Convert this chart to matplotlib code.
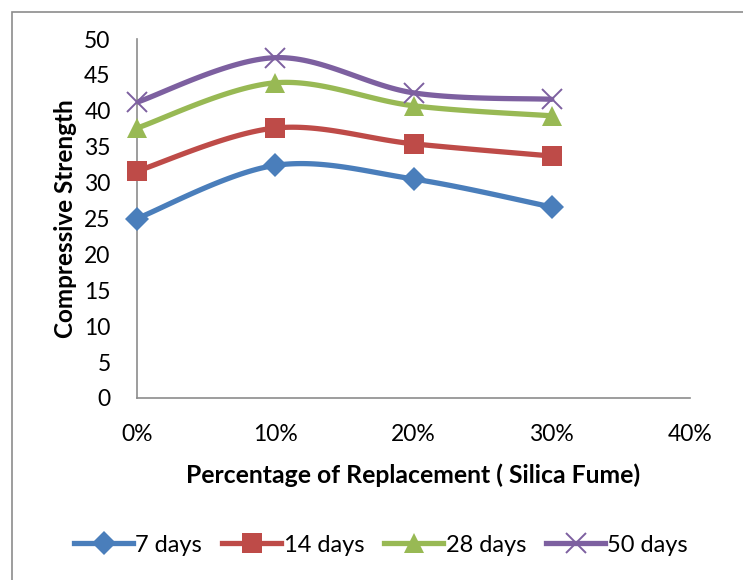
import numpy as np
import matplotlib
matplotlib.use("Agg")
import matplotlib.pyplot as plt
from matplotlib.patches import Rectangle
from matplotlib.lines import Line2D

plt.rcParams['font.family'] = ['Lato', 'DejaVu Sans']

replacement = [0.0, 0.10, 0.20, 0.30]
x_ticks = [0.0, 0.10, 0.20, 0.30, 0.40]
x_tick_labels = ["0%", "10%", "20%", "30%", "40%"]
y_ticks = [0, 5, 10, 15, 20, 25, 30, 35, 40, 45, 50]

days_7 = [25.0, 32.4, 30.5, 26.6]
days_14 = [31.6, 37.6, 35.4, 33.7]
days_28 = [37.6, 43.9, 40.7, 39.3]
days_50 = [41.2, 47.4, 42.5, 41.6]

series_labels = ["7 days", "14 days", "28 days", "50 days"]
series_values = [days_7, days_14, days_28, days_50]
colors = ["#4A7EBB", "#BE4B48", "#98B954", "#7D60A0"]
markers = ["D", "s", "^", "x"]
marker_sizes = [12.5, 14, 14, 14]


def smooth(xs, ys, n=40):
    """Catmull-Rom style Bezier smoothing through every point."""
    xs = np.asarray(xs, float)
    ys = np.asarray(ys, float)
    px = np.concatenate([[xs[0]], xs, [xs[-1]]])
    py = np.concatenate([[ys[0]], ys, [ys[-1]]])
    out_x, out_y = [], []
    t = np.linspace(0, 1, n)
    for i in range(1, len(px) - 2):
        p0 = np.array([px[i], py[i]])
        p3 = np.array([px[i + 1], py[i + 1]])
        c1 = p0 + (np.array([px[i + 1], py[i + 1]]) - np.array([px[i - 1], py[i - 1]])) / 6
        c2 = p3 - (np.array([px[i + 2], py[i + 2]]) - np.array([px[i], py[i]])) / 6
        b = ((1 - t) ** 3)[:, None] * p0 + (3 * (1 - t) ** 2 * t)[:, None] * c1 \
            + (3 * (1 - t) * t ** 2)[:, None] * c2 + (t ** 3)[:, None] * p3
        out_x.extend(b[:, 0])
        out_y.extend(b[:, 1])
    return np.array(out_x), np.array(out_y)


fig = plt.figure(figsize=(7.43, 5.80), dpi=100)
fig.patches.append(Rectangle((12 / 743, -0.1), 1.2, 1 - 12 / 580 + 0.1,
                             transform=fig.transFigure, fill=False,
                             edgecolor="#8C8C8C", linewidth=1.2))

ax = fig.add_axes([137 / 743, 1 - 398 / 580, (690 - 137) / 743, (398 - 39) / 580])

handles = []
for vals, lab, col, mk, ms in zip(series_values, series_labels, colors, markers, marker_sizes):
    sx, sy = smooth(replacement, vals)
    ax.plot(sx, sy, color=col, linewidth=3.8, solid_capstyle="round", zorder=2)
    mew = 1.4 if mk == "x" else 0
    ax.plot(replacement, vals, linestyle="none", marker=mk, markersize=ms,
            color=col, markeredgewidth=mew, markeredgecolor=col, zorder=3, clip_on=False)
    handles.append(Line2D([0], [0], color=col, linewidth=3.8, marker=mk, markersize=ms,
                          markeredgewidth=mew, markeredgecolor=col))

ax.set_xlim(0, 0.40)
ax.set_ylim(0, 50)
ax.set_xticks(x_ticks)
ax.set_xticklabels(x_tick_labels)
ax.set_yticks(y_ticks)
ax.tick_params(axis="both", length=0, labelsize=16.5, colors="black")
ax.tick_params(axis="x", pad=19)
ax.tick_params(axis="y", pad=19)
for side in ("top", "right"):
    ax.spines[side].set_visible(False)
for side in ("left", "bottom"):
    ax.spines[side].set_color("#8C8C8C")
    ax.spines[side].set_linewidth(1.2)

ax.set_ylabel("Compressive Strength", fontsize=17.5, fontweight="bold", labelpad=5)
ax.set_xlabel("Percentage of Replacement ( Silica Fume)", fontsize=17.8, fontweight="bold", labelpad=13)

fig.legend(handles, series_labels, loc="center", bbox_to_anchor=(381 / 743, 1 - 545 / 580),
           ncol=4, frameon=False, fontsize=17, handlelength=2.5, handletextpad=0.1,
           columnspacing=0.85)

fig.savefig("out.png", dpi=100)
